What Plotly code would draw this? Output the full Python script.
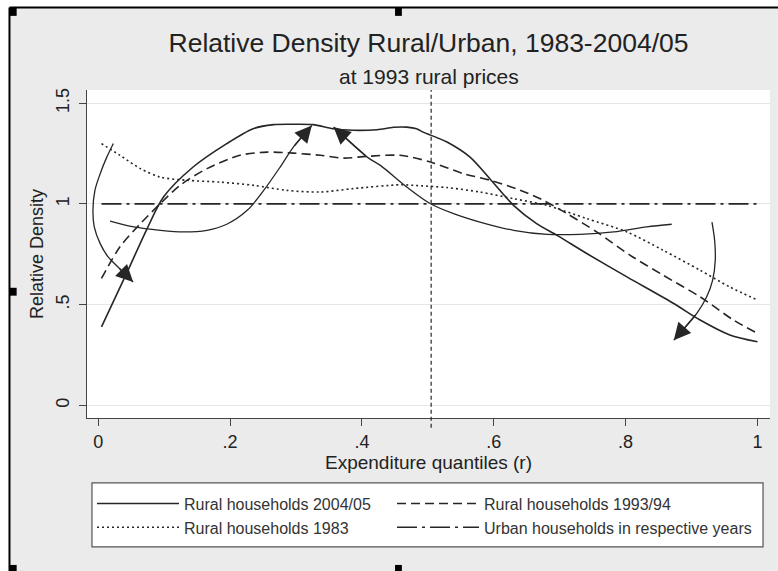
import plotly.graph_objects as go

# ---- axis ticks -------------------------------------------------------------
quantile_ticks = [0, 0.2, 0.4, 0.6, 0.8, 1.0]
quantile_tick_text = ["0", ".2", ".4", ".6", ".8", "1"]
density_ticks = [0, 0.5, 1.0, 1.5]
density_tick_text = ["0", ".5", "1", "1.5"]

# ---- relative density curves (rural vs urban) -------------------------------
r_2004 = [0.005, 0.043, 0.073, 0.099, 0.144, 0.195, 0.235, 0.266, 0.296, 0.326,
          0.356, 0.387, 0.423, 0.448, 0.468, 0.483, 0.493, 0.529, 0.564, 0.594,
          0.630, 0.665, 0.696, 0.741, 0.802, 0.873, 0.913, 0.958, 1.0]
d_2004 = [0.390, 0.655, 0.869, 1.034, 1.183, 1.299, 1.373, 1.393, 1.395, 1.393,
          1.373, 1.365, 1.368, 1.380, 1.381, 1.373, 1.356, 1.307, 1.232, 1.125,
          0.993, 0.902, 0.844, 0.754, 0.638, 0.506, 0.424, 0.350, 0.316]

r_1993 = [0.005, 0.033, 0.064, 0.094, 0.124, 0.165, 0.215, 0.256, 0.296, 0.337,
          0.372, 0.408, 0.458, 0.504, 0.554, 0.595, 0.640, 0.675, 0.711, 0.756,
          0.807, 0.857, 0.913, 0.964, 1.0]
d_1993 = [0.630, 0.787, 0.902, 1.001, 1.092, 1.175, 1.241, 1.257, 1.252, 1.241,
          1.227, 1.236, 1.241, 1.208, 1.150, 1.117, 1.068, 1.018, 0.952, 0.861,
          0.745, 0.646, 0.539, 0.423, 0.358]

r_1983 = [0.005, 0.033, 0.064, 0.094, 0.135, 0.185, 0.236, 0.286, 0.337, 0.387,
          0.458, 0.478, 0.529, 0.579, 0.630, 0.680, 0.741, 0.802, 0.857, 0.913,
          0.958, 1.0]
d_1983 = [1.299, 1.241, 1.175, 1.133, 1.117, 1.108, 1.092, 1.067, 1.059, 1.076,
          1.095, 1.092, 1.081, 1.059, 1.026, 0.993, 0.927, 0.861, 0.770, 0.671,
          0.588, 0.523]

r_urban = [0.005, 1.0]
d_urban = [1.0, 1.0]

# vertical reference line at the middle quantile
median_split = 0.505

# ---- hand-drawn guide arrows (last point is the arrow tip) ------------------
arrow_low_x = [0.023, 0.013, 0.003, -0.005, -0.008, -0.006, 0.003, 0.015, 0.030, 0.053]
arrow_low_y = [1.300, 1.232, 1.150, 1.067, 0.968, 0.886, 0.803, 0.737, 0.687, 0.613]

arrow_rise_x = [0.018, 0.054, 0.094, 0.129, 0.165, 0.195, 0.226, 0.251, 0.276, 0.296, 0.324]
arrow_rise_y = [0.915, 0.886, 0.869, 0.861, 0.869, 0.899, 0.968, 1.067, 1.183, 1.282, 1.389]

arrow_mid_x = [0.870, 0.832, 0.782, 0.731, 0.681, 0.630, 0.579, 0.539, 0.504, 0.468,
               0.428, 0.408, 0.357]
arrow_mid_y = [0.899, 0.886, 0.861, 0.849, 0.849, 0.869, 0.910, 0.952, 1.001, 1.084,
               1.191, 1.232, 1.381]

arrow_top_x = [0.931, 0.935, 0.936, 0.932, 0.923, 0.908, 0.873]
arrow_top_y = [0.910, 0.820, 0.721, 0.622, 0.539, 0.457, 0.324]

INK = "#262626"
FONT = "Liberation Sans, Arial, sans-serif"

fig = go.Figure()

# two legend columns: left column uses "legend", right column uses "legend2"
series = [
    ("Rural households 2004/05", r_2004, d_2004, "solid", "legend"),
    ("Rural households 1993/94", r_1993, d_1993, "9px,5px", "legend2"),
    ("Rural households 1983", r_1983, d_1983, "2px,3px", "legend"),
    ("Urban households in respective years", r_urban, d_urban, "20px,5px,3px,5px", "legend2"),
]
for name, xs, ys, dash, leg in series:
    fig.add_trace(go.Scatter(
        x=xs, y=ys, name=name, mode="lines", legend=leg,
        line=dict(color=INK, width=1.6, dash=dash, shape="spline", smoothing=0.8),
        hoverinfo="skip",
    ))

arrows = [
    (arrow_low_x, arrow_low_y),
    (arrow_rise_x, arrow_rise_y),
    (arrow_mid_x, arrow_mid_y),
    (arrow_top_x, arrow_top_y),
]
for ax_list, ay_list in arrows:
    fig.add_trace(go.Scatter(
        x=ax_list, y=ay_list, mode="lines", showlegend=False, hoverinfo="skip",
        line=dict(color=INK, width=1.3, shape="spline", smoothing=0.9),
    ))
    fig.add_annotation(
        x=ax_list[-1], y=ay_list[-1], ax=ax_list[-2], ay=ay_list[-2],
        xref="x", yref="y", axref="x", ayref="y", text="",
        showarrow=True, arrowhead=2, arrowsize=2.6, arrowwidth=1.3,
        arrowcolor=INK, standoff=0,
    )

# dashed vertical line at the middle quantile (runs slightly below the axis)
fig.add_shape(type="line", xref="x", yref="paper",
              x0=median_split, x1=median_split, y0=-0.03, y1=1.0,
              line=dict(color=INK, width=1.2, dash="4px,3px"))

# subtitle
fig.add_annotation(text="at 1993 rural prices", xref="paper", yref="paper",
                   x=0.5, y=1.041, yanchor="middle", showarrow=False,
                   font=dict(family=FONT, size=21, color="#222"))

# white box framing both legend columns
fig.add_shape(type="rect", xref="paper", yref="paper",
              x0=0.0073, x1=0.9898, y0=-0.3927, y1=-0.1979,
              fillcolor="white", line=dict(color="#555", width=1.2))

# frame lines and corner marks around the figure
fig.add_shape(type="rect", xref="paper", yref="paper", x0=-0.2, x1=-0.1135,
              y0=-0.5, y1=1.5, line=dict(width=0), fillcolor="white", layer="above")
fig.add_shape(type="rect", xref="paper", yref="paper", x0=-0.2, x1=1.2,
              y0=1.2512, y1=1.5, line=dict(width=0), fillcolor="white", layer="above")
fig.add_shape(type="line", xref="paper", yref="paper", x0=-0.1135, x1=1.2,
              y0=1.2512, y1=1.2512, line=dict(color="black", width=2))
fig.add_shape(type="line", xref="paper", yref="paper", x0=-0.1135, x1=-0.1135,
              y0=-0.5, y1=1.2512, line=dict(color="black", width=2))
for mx, my in [(-0.108, 1.238), (0.456, 1.238), (-0.108, 0.385),
               (-0.108, -0.46), (0.456, -0.46)]:
    fig.add_shape(type="rect", xref="paper", yref="paper",
                  x0=mx - 0.005, x1=mx + 0.005, y0=my - 0.012, y1=my + 0.012,
                  line=dict(width=0), fillcolor="black")

legend_style = dict(
    orientation="v", yanchor="top", xanchor="left", y=-0.209,
    bgcolor="rgba(0,0,0,0)", borderwidth=0,
    font=dict(family=FONT, size=16, color="#333"),
    itemwidth=82, tracegroupgap=0, traceorder="normal",
)

fig.update_layout(
    width=778, height=571,
    margin=dict(l=87, r=8, t=89.5, b=153, autoexpand=False),
    paper_bgcolor="#ebebeb",
    plot_bgcolor="white",
    font=dict(family=FONT, color="#222"),
    title=dict(text="Relative Density Rural/Urban, 1983-2004/05",
               x=0.5, xref="paper", xanchor="center",
               y=1 - 43 / 571, yref="container", yanchor="middle",
               font=dict(family=FONT, size=26.5, color="#222")),
    showlegend=True,
    legend=dict(x=0.0073, **legend_style),
    legend2=dict(x=0.4466, **legend_style),
    xaxis=dict(
        range=[-0.017, 1.019], tickvals=quantile_ticks, ticktext=quantile_tick_text,
        showgrid=False, zeroline=False,
        showline=True, linecolor="#444", linewidth=1,
        ticks="outside", ticklen=7, tickcolor="#444",
        tickfont=dict(family=FONT, size=18, color="#222"),
        title=dict(text="Expenditure quantiles (r)", standoff=2,
                   font=dict(family=FONT, size=19, color="#222")),
    ),
    yaxis=dict(
        range=[-0.062, 1.565], tickvals=density_ticks, ticktext=density_tick_text,
        tickangle=-90, ticklabelstandoff=3,
        showgrid=True, gridcolor="#e6e6e6", gridwidth=1, zeroline=False,
        showline=True, linecolor="#444", linewidth=1,
        ticks="outside", ticklen=7, tickcolor="#444",
        tickfont=dict(family=FONT, size=18, color="#222"),
        title=dict(text="Relative Density", standoff=4,
                   font=dict(family=FONT, size=18, color="#222")),
    ),
)

fig.write_html("out.html")
